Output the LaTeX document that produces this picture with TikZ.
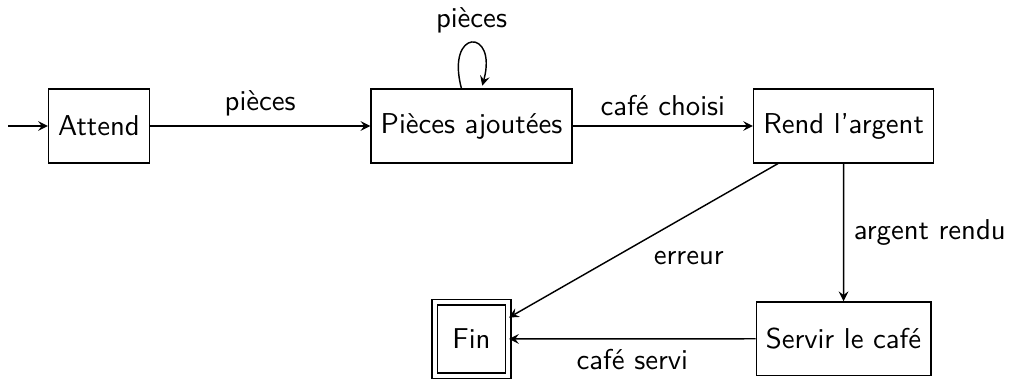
\documentclass[tikz,border=0pt]{standalone}
\usepackage{fontspec}
\usetikzlibrary{arrows}
\begin{document}
\begin{tikzpicture}[x=0.348pt,y=-0.348pt, font=\sffamily, >=stealth, line width=0.5pt,
  state/.style={draw, rectangle, minimum height=0.9cm},
  final/.style={state, double, double distance=1.3pt, minimum size=0.9cm}]
\useasboundingbox (0,0) rectangle (1010,379);
\node[state] (att) at (99,126) {Attend};
\node[state] (pa) at (471.5,126) {Pièces ajoutées};
\node[state] (rend) at (843.6,126) {Rend l'argent};
\node[state] (serv) at (843.5,338.7) {Servir le café};
\node[final] (fin) at (471.5,339) {Fin};
\coordinate (start) at (8,126);
\draw[->] (start) -- (att);
\draw[->] (att) -- node[above] {pièces} (pa);
\path[->] (pa) edge[loop above] node[above] {pièces} ();
\draw[->] (pa) -- node[above] {café choisi} (rend);
\draw[->] (rend) -- node[right] {argent rendu} (serv);
\draw[->] (rend) -- node[below right] {erreur} (fin);
\draw[->] (serv) -- node[below] {café servi} (fin);
\end{tikzpicture}
\end{document}
